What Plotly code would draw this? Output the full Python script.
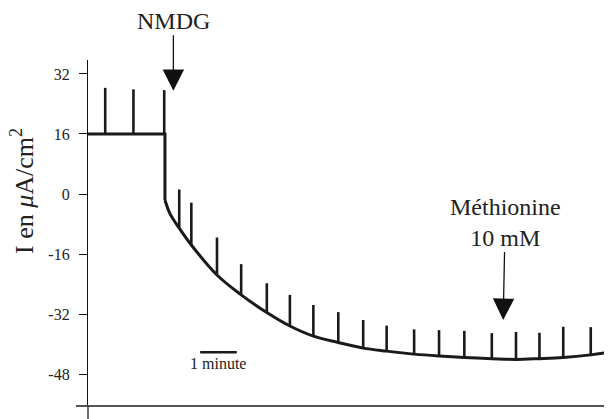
import plotly.graph_objects as go

# ---- data (time in minutes, current in µA/cm²) ----
curve_t = [0, 2.10, 2.10, 2.24, 2.49, 2.82, 3.52, 4.18, 4.88, 5.51, 6.15, 6.83,
           7.51, 8.15, 8.90, 9.58, 10.27, 11.02, 11.68, 12.32, 12.97, 13.72, 14.16]
curve_i = [16, 16, -1.6, -5.3, -9.1, -13.6, -21.6, -26.9, -31.6, -35.2, -37.9, -39.6,
           -41.1, -41.9, -42.7, -43.2, -43.6, -43.9, -44.1, -43.9, -43.6, -42.9, -42.3]

spike_t = [0.47, 1.24, 2.08, 2.49, 2.82, 3.52, 4.18, 4.88, 5.51, 6.15, 6.83, 7.51,
           8.15, 8.90, 9.58, 10.27, 11.02, 11.68, 12.32, 12.97, 13.72]
spike_base = [16, 16, 16, -9.1, -13.6, -21.6, -26.9, -31.6, -35.2, -37.9, -39.6, -41.1,
              -41.9, -42.7, -43.2, -43.6, -43.9, -44.1, -43.9, -43.6, -42.9]
spike_top = [28.3, 27.9, 27.7, 1.2, -2.3, -11.6, -18.7, -23.8, -26.9, -29.6, -31.5, -33.6,
             -35.1, -36.1, -36.3, -36.5, -37.1, -36.8, -37.0, -35.4, -35.5]

y_ticks = [32, 16, 0, -16, -32, -48]
y_tick_text = ["32", "16", "0", "-16", "-32", "-48"]

scale_bar_t = [3.06, 4.06]
scale_bar_i = [-42.2, -42.2]

nmdg_t, nmdg_i = 2.33, 27.5
meth_t, meth_i = 11.33, -33.6

FONT = "Liberation Serif"

# the page body adds an 8px margin; figure is sized/margined to compensate
W, H = 604, 411
ML, MT, MB = 80, 52, 13
PW, PH = W - ML, H - MT - MB

fig = go.Figure()

fig.add_trace(go.Scatter(x=curve_t[:3], y=curve_i[:3], mode="lines",
                         line=dict(color="#1a1a1a", width=3), hoverinfo="skip"))
fig.add_trace(go.Scatter(x=curve_t[2:], y=curve_i[2:], mode="lines",
                         line=dict(color="#1a1a1a", width=3, shape="spline", smoothing=1.0),
                         hoverinfo="skip"))

sx, sy = [], []
for t, b, tp in zip(spike_t, spike_base, spike_top):
    sx += [t, t, None]
    sy += [b, tp, None]
fig.add_trace(go.Scatter(x=sx, y=sy, mode="lines",
                         line=dict(color="#1a1a1a", width=2.6), hoverinfo="skip"))

fig.add_trace(go.Scatter(x=scale_bar_t, y=scale_bar_i, mode="lines",
                         line=dict(color="#1a1a1a", width=2.6), hoverinfo="skip"))

fig.add_annotation(x=sum(scale_bar_t) / 2, y=-45.3, text="1 minute", showarrow=False,
                   font=dict(family=FONT, size=16, color="#222"))

fig.add_annotation(x=nmdg_t, y=nmdg_i, text="NMDG", showarrow=True, ax=0, ay=-70,
                   arrowhead=2, arrowwidth=1.3, arrowsize=3.3, arrowcolor="#111",
                   font=dict(family=FONT, size=24, color="#222"))
fig.add_annotation(x=meth_t, y=meth_i, text="Méthionine<br>10 mM", showarrow=True, ax=2, ay=-98,
                   arrowhead=2, arrowwidth=1.3, arrowsize=3.3, arrowcolor="#111",
                   font=dict(family=FONT, size=24, color="#222"))

# y-axis title (positions in reference pixels, minus the 8px page margin)
fig.add_annotation(xref="paper", yref="paper", x=(22 - 88) / PW, y=(406 - 191) / PH,
                   xanchor="center", yanchor="middle", textangle=-90, showarrow=False,
                   text="I en <i>μ</i>A/cm<sup>2</sup>",
                   font=dict(family=FONT, size=26, color="#222"))

fig.add_shape(type="line", xref="paper", yref="paper", x0=(76 - 88) / PW, x1=1, y0=0, y1=0,
              line=dict(color="#555", width=2))
fig.add_shape(type="line", xref="paper", yref="paper", x0=0, x1=0, y0=0, y1=-13 / PH,
              line=dict(color="#111", width=1.2))

fig.update_xaxes(range=[0, 14.3], visible=False)
fig.update_yaxes(range=[-56.53, 35.73], tickvals=y_ticks, ticktext=y_tick_text,
                 ticks="outside", ticklen=8, tickwidth=1.2, tickcolor="#111",
                 showline=True, linecolor="#111", linewidth=1.2,
                 showgrid=False, zeroline=False, ticklabelstandoff=6,
                 tickfont=dict(family=FONT, size=16, color="#222"))

fig.update_layout(width=W, height=H, margin=dict(l=ML, r=0, t=MT, b=MB),
                  plot_bgcolor="white", paper_bgcolor="white", showlegend=False)

fig.write_html("out.html")
